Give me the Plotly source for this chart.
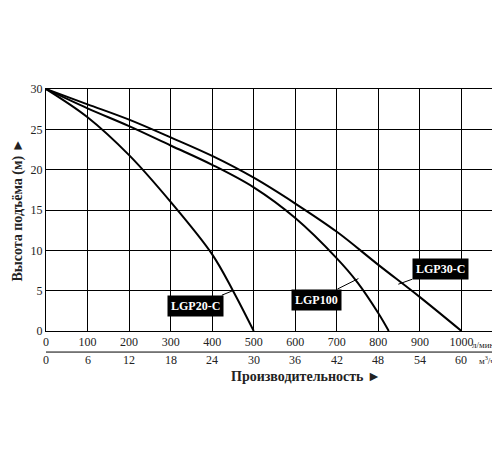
import plotly.graph_objects as go

flow_lpm = [0, 100, 200, 300, 400, 500, 600, 700, 800, 900, 1000]
flow_m3h = ["0", "6", "12", "18", "24", "30", "36", "42", "48", "54", "60"]

lgp20_q = [0, 100, 200, 300, 400, 450, 500]
lgp20_h = [30, 26.5, 21.8, 16, 9.5, 5, 0]
lgp100_q = [0, 100, 200, 300, 400, 500, 600, 700, 750, 800, 825]
lgp100_h = [30, 27.6, 25.4, 23, 20.6, 17.8, 14, 9, 6, 2.2, 0]
lgp30_q = [0, 100, 200, 300, 400, 500, 600, 700, 800, 900, 1000]
lgp30_h = [30, 28.1, 26.2, 24, 21.7, 19, 15.8, 12.3, 8.2, 4.2, 0]

font = "Liberation Serif"
fig = go.Figure()
for q, h in [(lgp20_q, lgp20_h), (lgp100_q, lgp100_h), (lgp30_q, lgp30_h)]:
    fig.add_trace(go.Scatter(x=q, y=h, mode="lines", line=dict(color="black", width=2, shape="spline"),
                             showlegend=False, hoverinfo="skip"))

labels = [("LGP20-C", 450, 5, -37, 15), ("LGP100", 752, 6.5, -42, 21), ("LGP30-C", 848, 5.8, 42, -15)]
for txt, x, y, ax, ay in labels:
    fig.add_annotation(x=x, y=y, ax=ax, ay=ay, text="<b>" + txt + "</b>", showarrow=True, arrowhead=0,
                       arrowwidth=1, arrowcolor="black", bgcolor="black", borderpad=3,
                       font=dict(family=font, size=12, color="white"))

for q, m in zip(flow_lpm, flow_m3h):
    fig.add_annotation(x=q, y=-0.12, yref="paper", yanchor="middle", text=m, showarrow=False,
                       font=dict(family=font, size=12, color="#222"))
fig.add_annotation(x=1000, y=-0.058, yref="paper", yanchor="middle", xanchor="left", text="л/мин.",
                   showarrow=False, xshift=9, font=dict(family=font, size=9, color="#222"))
fig.add_annotation(x=1000, y=-0.12, yref="paper", yanchor="middle", xanchor="left",
                   text="м<sup>3</sup>/ч.", showarrow=False, xshift=16, font=dict(family=font, size=9, color="#222"))
fig.add_annotation(x=0.57, y=-0.186, xref="paper", yref="paper", yanchor="middle",
                   text="<b>Производительность ►</b>", showarrow=False,
                   font=dict(family=font, size=14, color="#222"))
fig.add_shape(type="line", xref="x", yref="paper", x0=0, x1=1100, y0=-0.087, y1=-0.087,
              line=dict(color="black", width=1))

fig.update_layout(
    width=500, height=450, plot_bgcolor="white", paper_bgcolor="white",
    margin=dict(l=38, r=5, t=81, b=127, autoexpand=False),
    font=dict(family=font, size=12, color="#222"),
    xaxis=dict(range=[0, 1100], tickvals=flow_lpm, automargin=False,
               showgrid=True, gridcolor="black", gridwidth=1, zeroline=False,
               showline=True, linecolor="black", mirror=True, ticks=""),
    yaxis=dict(range=[0, 30], tickvals=[0, 5, 10, 15, 20, 25, 30], showgrid=True, gridcolor="black",
               zeroline=False, showline=True, linecolor="black", mirror=True, ticks="", automargin=False,
               title=dict(text="<b>Высота подъёма (м) ►</b>", font=dict(size=14), standoff=4)),
)
fig.write_html("out.html")
